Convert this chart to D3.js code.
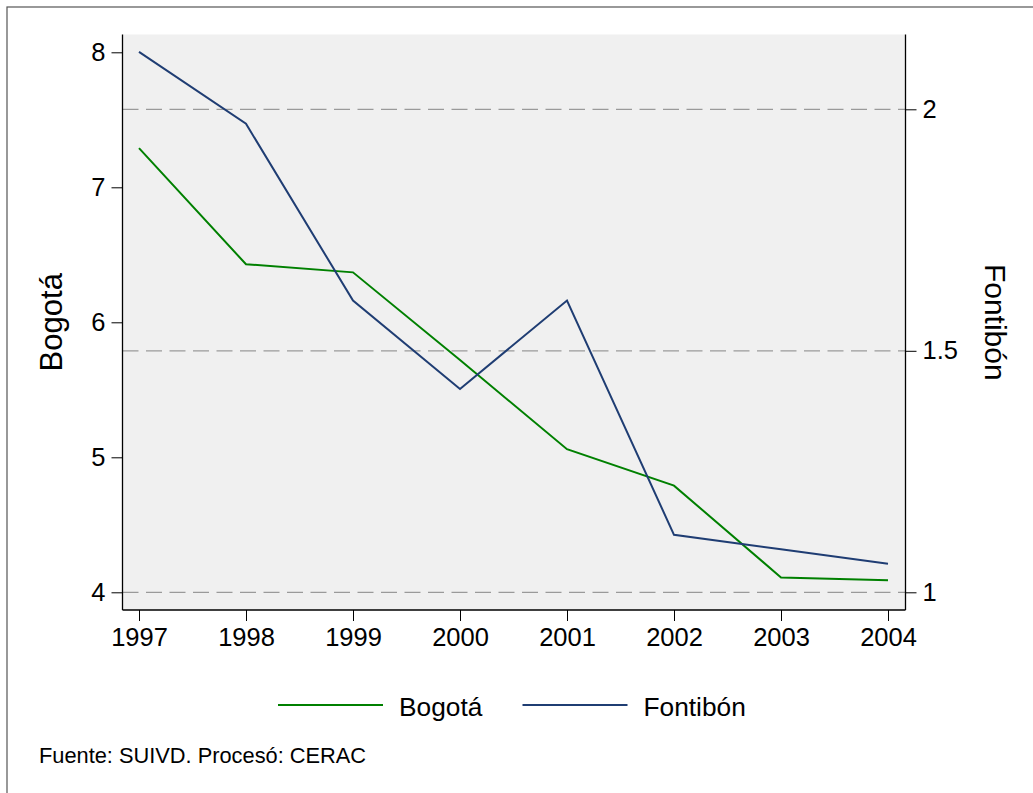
<!DOCTYPE html>
<html>
<head>
<meta charset="utf-8">
<script src="https://cdn.jsdelivr.net/npm/d3@7"></script>
<style>
  body { margin: 0; background: #fff; }
  svg { display: block; font-family: Arial, "Liberation Sans", sans-serif; }
</style>
</head>
<body>
<div id="chart"></div>
<script>
// data
const years = [1997, 1998, 1999, 2000, 2001, 2002, 2003, 2004];
const bogota = [7.29, 6.43, 6.37, 5.72, 5.06, 4.79, 4.11, 4.09];
const fontibon = [2.119, 1.970, 1.604, 1.421, 1.604, 1.119, 1.089, 1.059];
const leftTicks = [4, 5, 6, 7, 8];
const rightTicks = [1, 1.5, 2];

const colors = { bogota: '#008000', fontibon: '#1f3d73' };

const W = 1033, H = 793;
const plot = { left: 122.5, right: 905.5, top: 34.5, bottom: 610 };

const svg = d3.select('#chart')
  .append('svg')
    .attr('width', W)
    .attr('height', H);

// outer frame (right / bottom edges fall outside the picture)
svg.append('rect')
  .attr('x', 7).attr('y', 7)
  .attr('width', W + 20).attr('height', H + 20)
  .attr('fill', '#fff')
  .attr('stroke', '#555')
  .attr('stroke-width', 1.2);

// plot background
svg.append('rect')
  .attr('x', plot.left).attr('y', plot.top)
  .attr('width', plot.right - plot.left)
  .attr('height', plot.bottom - plot.top)
  .attr('fill', '#f0f0f0');

const x = d3.scaleLinear()
  .domain([1997, 2004])
  .range([139, 888]);

const yL = d3.scaleLinear()
  .domain([4, 8])
  .range([592.3, 52.3]);

const yR = d3.scaleLinear()
  .domain([1, 2])
  .range([592.3, 109.3]);

// dashed grid at right axis ticks
svg.append('g')
  .selectAll('line')
  .data(rightTicks)
  .join('line')
    .attr('x1', plot.left).attr('x2', plot.right)
    .attr('y1', d => yR(d)).attr('y2', d => yR(d))
    .attr('stroke', '#9a9a9a')
    .attr('stroke-width', 1.3)
    .attr('stroke-dasharray', '16,7.5');

// axes
const axisL = svg.append('g')
  .attr('transform', `translate(${plot.left},0)`)
  .call(d3.axisLeft(yL).tickValues(leftTicks).tickFormat(d3.format('d')).tickSize(11).tickPadding(6).tickSizeOuter(0));

const axisR = svg.append('g')
  .attr('transform', `translate(${plot.right},0)`)
  .call(d3.axisRight(yR).tickValues(rightTicks).tickFormat(d => d).tickSize(11).tickPadding(6).tickSizeOuter(0));

const axisB = svg.append('g')
  .attr('transform', `translate(0,${plot.bottom})`)
  .call(d3.axisBottom(x).tickValues(years).tickFormat(d3.format('d')).tickSize(11).tickPadding(7).tickSizeOuter(0));

[axisL, axisR, axisB].forEach(a => {
  a.select('.domain').remove();
  a.selectAll('.tick line').attr('stroke', '#000').attr('stroke-width', 1);
  a.selectAll('.tick text').attr('font-size', 25.5).attr('fill', '#000')
    .attr('font-family', 'Arial, "Liberation Sans", sans-serif');
});

// axis lines spanning the whole plot region
svg.append('line')
  .attr('x1', plot.left).attr('x2', plot.left)
  .attr('y1', plot.top).attr('y2', plot.bottom)
  .attr('stroke', '#000').attr('stroke-width', 1.3);
svg.append('line')
  .attr('x1', plot.right).attr('x2', plot.right)
  .attr('y1', plot.top).attr('y2', plot.bottom)
  .attr('stroke', '#000').attr('stroke-width', 1.3);
svg.append('line')
  .attr('x1', plot.left).attr('x2', plot.right)
  .attr('y1', plot.bottom).attr('y2', plot.bottom)
  .attr('stroke', '#000').attr('stroke-width', 1.3);

// lines
const lineL = d3.line()
  .x((d, i) => x(years[i]))
  .y(d => yL(d));
const lineR = d3.line()
  .x((d, i) => x(years[i]))
  .y(d => yR(d));

svg.append('path')
  .attr('d', lineL(bogota))
  .attr('fill', 'none')
  .attr('stroke', colors.bogota)
  .attr('stroke-width', 2);

svg.append('path')
  .attr('d', lineR(fontibon))
  .attr('fill', 'none')
  .attr('stroke', colors.fontibon)
  .attr('stroke-width', 2);

// axis titles
const midY = (plot.top + plot.bottom) / 2;
svg.append('text')
  .attr('transform', `translate(62,${midY}) rotate(-90)`)
  .attr('text-anchor', 'middle')
  .attr('font-size', 31)
  .text('Bogotá');

svg.append('text')
  .attr('transform', `translate(985,${midY}) rotate(90)`)
  .attr('text-anchor', 'middle')
  .attr('font-size', 30)
  .text('Fontibón');

// legend
const legend = [
  { label: 'Bogotá', color: colors.bogota, x0: 278 },
  { label: 'Fontibón', color: colors.fontibon, x0: 522.5 }
];
const lg = svg.append('g').selectAll('g').data(legend).join('g');
lg.append('line')
  .attr('x1', d => d.x0).attr('x2', d => d.x0 + 105)
  .attr('y1', 705).attr('y2', 705)
  .attr('stroke', d => d.color)
  .attr('stroke-width', 2);
lg.append('text')
  .attr('x', d => d.x0 + 121)
  .attr('y', 715.5)
  .attr('font-size', 26.3)
  .text(d => d.label);

// note
svg.append('text')
  .attr('x', 39)
  .attr('y', 762.5)
  .attr('font-size', 21.8)
  .text('Fuente: SUIVD. Procesó: CERAC');
</script>
</body>
</html>
